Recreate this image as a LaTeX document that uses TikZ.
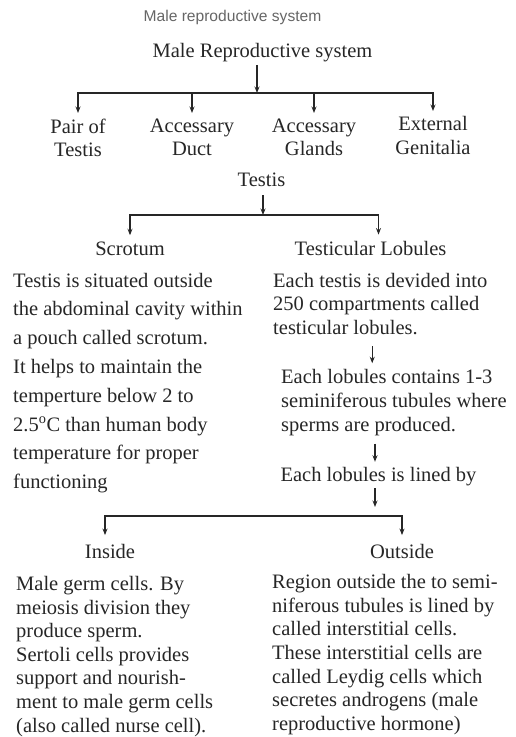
\documentclass[tikz,border=0pt]{standalone}
\usepackage{fontspec}
\setmainfont{Liberation Serif}
\newfontfamily\capfont{Liberation Sans}
\usetikzlibrary{arrows.meta, positioning}

\begin{document}
\begin{tikzpicture} [x=1pt, y=-1pt,
            every node/.style = {inner sep=0pt, text=black!85,
                font=\fontsize{20.5}{24}\selectfont},
            capt/.style = {anchor=base, text=black!60,
                font=\capfont\fontsize{15.6}{18}\selectfont},
            head/.style = {anchor=base},
            part/.style = {anchor=north, align=center,
                font=\fontsize{20.5}{23.5}\selectfont},
            para/.style = {anchor=north west, align=left},
            arr/.style = {-{Stealth[length=6.5pt, width=5pt]},
                line width=1.1pt, draw=black!85}]

        \useasboundingbox (0,0) rectangle (515,737);

        % Caption
        \node (caption) [capt] at (232.5, 21.7) {Male reproductive system};

        % Title
        \node (title) [head] at (262.5, 57.3) {Male Reproductive system};
        \coordinate (hub1) at (257, 93);

        % Parts of the system
        \node (pair) [part] at (78, 118.5) {Pair of\\Testis};
        \node (duct) [part] at (192, 118.5) {Accessary\\Duct};
        \node (glands) [part] at (314, 118.5) {Accessary\\Glands};
        \node (genit) [part] at (433, 116.5) {External\\Genitalia};

        % Testis
        \node (testis) [head] at (261.5, 186) {Testis};
        \coordinate (hub2) at (263, 215);

        % Scrotum
        \node (scrot) [head] at (130, 255) {Scrotum};
        \node (scrottext) [para, font=\fontsize{20.5}{28.8}\selectfont]
            at (13, 272.7) {Testis is situated outside\\
            the abdominal cavity within\\
            a pouch called scrotum.\\
            It helps to maintain the\\
            temperture below 2 to\\
            2.5\textsuperscript{o}C than human body\\
            temperature for proper\\
            functioning};

        % Testicular lobules
        \node (lobes) [head] at (370.5, 255) {Testicular Lobules};
        \node (lob1) [para, font=\fontsize{20.5}{23.7}\selectfont]
            at (273, 272.7) {Each testis is devided into\\
            250 compartments called\\
            testicular lobules.};
        \node (lob2) [para, font=\fontsize{20.5}{24}\selectfont]
            at (281, 368.7) {Each lobules contains 1-3\\
            seminiferous tubules where\\
            sperms are produced.};
        \node (lined) [head] at (378.5, 481.7) {Each lobules is lined by};
        \coordinate (hub3) at (375, 516);

        % Inside
        \node (inside) [head] at (110, 558) {Inside};
        \node (insidetext) [para, font=\fontsize{20.5}{23.6}\selectfont]
            at (16, 576) {Male germ cells. By\\
            meiosis division they\\
            produce sperm.\\
            Sertoli cells provides\\
            support and nourish-\\
            ment to male germ cells\\
            (also called nurse cell).};

        % Outside
        \node (outside) [head] at (402, 558) {Outside};
        \node (outsidetext) [para, font=\fontsize{20.5}{23.7}\selectfont]
            at (272, 574) {Region outside the to semi-\\
            niferous tubules is lined by\\
            called interstitial cells.\\
            These interstitial cells are\\
            called Leydig cells which\\
            secretes androgens (male\\
            reproductive hormone)};

        % Arrows
        \draw [arr, shorten <=3pt] (title.south -| hub1) -- (hub1);
        \foreach \part in {pair, duct, glands, genit}
            \draw [arr, shorten >=5.5pt] (hub1) -| (\part.north);

        \draw [arr, shorten <=9pt] (testis.south -| hub2) -- (hub2);
        \draw [arr, shorten >=6pt] (hub2) -| (scrot.north);
        \draw [arr, shorten >=6pt] (hub2) -| ([xshift=8pt]lobes.north);

        \draw [arr, shorten <=11pt, shorten >=5.5pt]
            ([xshift=-8pt]lob1.south) -- ([xshift=-8pt]lob1.south |- lob2.north);
        \draw [arr, shorten <=8pt, shorten >=5.5pt]
            (lob2.south -| hub3) -- (lined.north -| hub3);

        \draw [arr, shorten <=2pt, shorten >=9pt] (lined.south -| hub3) -- (hub3);
        \draw [arr, shorten >=8.5pt] (hub3) -| ([xshift=-5pt]inside.north);
        \draw [arr, shorten >=8.5pt] (hub3) -| (outside.north);
        \end{tikzpicture}
\end{document}
